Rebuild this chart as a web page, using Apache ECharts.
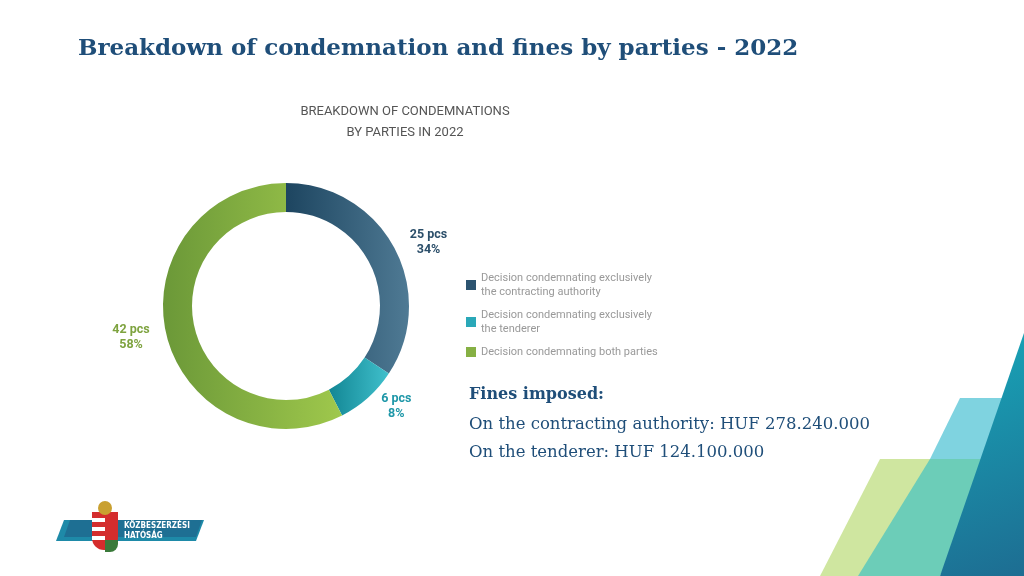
<!DOCTYPE html>
<html><head><meta charset="utf-8">
<script src="https://cdn.jsdelivr.net/npm/echarts@6/dist/echarts.min.js"></script>
<style>html,body{margin:0;padding:0;background:#fff}#c{width:1024px;height:576px}</style>
</head><body><div id="c"></div>
<script>
const categories = ['Decision condemnating exclusively\nthe contracting authority','Decision condemnating exclusively\nthe tenderer','Decision condemnating both parties'];
const values = [25, 6, 42];
const fineLines = ['Fines imposed:','On the contracting authority: HUF 278.240.000','On the tenderer: HUF 124.100.000'];

function lg(a,b){return new echarts.graphic.LinearGradient(0,0,1,0,[{offset:0,color:a},{offset:1,color:b}]);}
const colors=[lg('#1d4560','#4f7a94'),lg('#128694','#40c0cc'),lg('#6b9838','#9fc84c')];
const labelColors=['#2c4f6a','#1e97a8','#7ea33f'];

const chart=echarts.init(document.getElementById('c'));
chart.setOption({
  animation:false,
  title:[{text:'Breakdown of condemnation and fines by parties - 2022',left:73,top:33,textStyle:{fontFamily:'DejaVu Serif',fontWeight:'bold',fontSize:23,color:'#1f4e79'}},
    {text:'BREAKDOWN OF CONDEMNATIONS\nBY PARTIES IN 2022',left:400,top:96,textAlign:'center',textStyle:{fontFamily:'Roboto',fontWeight:'normal',fontSize:13,lineHeight:21,color:'#555'}}],
  legend:{orient:'vertical',left:461,top:266,icon:'rect',itemWidth:10,itemHeight:10,itemGap:9,
    textStyle:{fontFamily:'Roboto',fontSize:11,color:'#999',lineHeight:14},
    data:categories.map((n,i)=>({name:n,itemStyle:{color:['#2c5470','#2aa8b8','#86b044'][i]}}))},
  series:[{type:'pie',radius:[94,123],center:[286,306],startAngle:90,clockwise:true,
    label:{show:true,position:'outside',fontFamily:'Roboto',fontWeight:'bold',fontSize:12.5,lineHeight:15,
      formatter:p=>'{c|'+p.value+' pcs}\n{c|'+Math.round(p.percent)+'%}',rich:{c:{align:'center',fontFamily:'Roboto',fontWeight:'bold',fontSize:12.5,lineHeight:15}}},
    labelLine:{show:false,length:12,length2:0},
    data:categories.map((n,i)=>({name:n,value:values[i],itemStyle:{color:colors[i]},label:{color:labelColors[i]}}))}],
  graphic:[
    {type:'text',left:469,top:387,style:{text:fineLines[0],font:'bold 16px "DejaVu Serif"',fill:'#1f4e79'}},
    {type:'text',left:469,top:416,style:{text:fineLines[1],font:'16.5px "DejaVu Serif"',fill:'#1f4e79'}},
    {type:'text',left:469,top:444,style:{text:fineLines[2],font:'16.5px "DejaVu Serif"',fill:'#1f4e79'}},
    {type:'polygon',shape:{points:[[880,459],[950,459],[890,576],[820,576]]},style:{fill:'#cfe6a0'}},
    {type:'polygon',shape:{points:[[960,398],[1024,398],[1024,459],[930,459]]},style:{fill:'#7fd3e0'}},
    {type:'polygon',shape:{points:[[930,459],[1000,459],[940,576],[858,576]]},style:{fill:'#6ccdb8'}},
    {type:'polygon',shape:{points:[[1024,333],[1024,576],[940,576]]},style:{fill:new echarts.graphic.LinearGradient(0,0,1,1,[{offset:0,color:'#18a6b8'},{offset:1,color:'#1d6d92'}])}},
    {type:'polygon',shape:{points:[[64,520],[204,520],[196,541],[56,541]]},style:{fill:'#1e8aa8'}},
    {type:'polygon',shape:{points:[[70,520],[202,520],[196,537],[64,537]]},style:{fill:'#1e6f93'}},
    {type:'rect',shape:{x:92,y:512,width:26,height:38,r:[0,0,12,12]},style:{fill:'#d42d2d'}},
    {type:'rect',shape:{x:92,y:518,width:13,height:4},style:{fill:'#fff'}},
    {type:'rect',shape:{x:92,y:527,width:13,height:4},style:{fill:'#fff'}},
    {type:'rect',shape:{x:92,y:536,width:13,height:4},style:{fill:'#fff'}},
    {type:'rect',shape:{x:105,y:540,width:13,height:12,r:[0,0,8,0]},style:{fill:'#3a7a3a'}},
    {type:'circle',shape:{cx:105,cy:508,r:7},style:{fill:'#c9a030'}},
    {type:'text',left:124,top:521,style:{text:'KÖZBESZERZÉSI\nHATÓSÁG',font:'bold 8px "DejaVu Sans Condensed"',fill:'#fff',lineHeight:10}}
  ]
});
</script></body></html>
